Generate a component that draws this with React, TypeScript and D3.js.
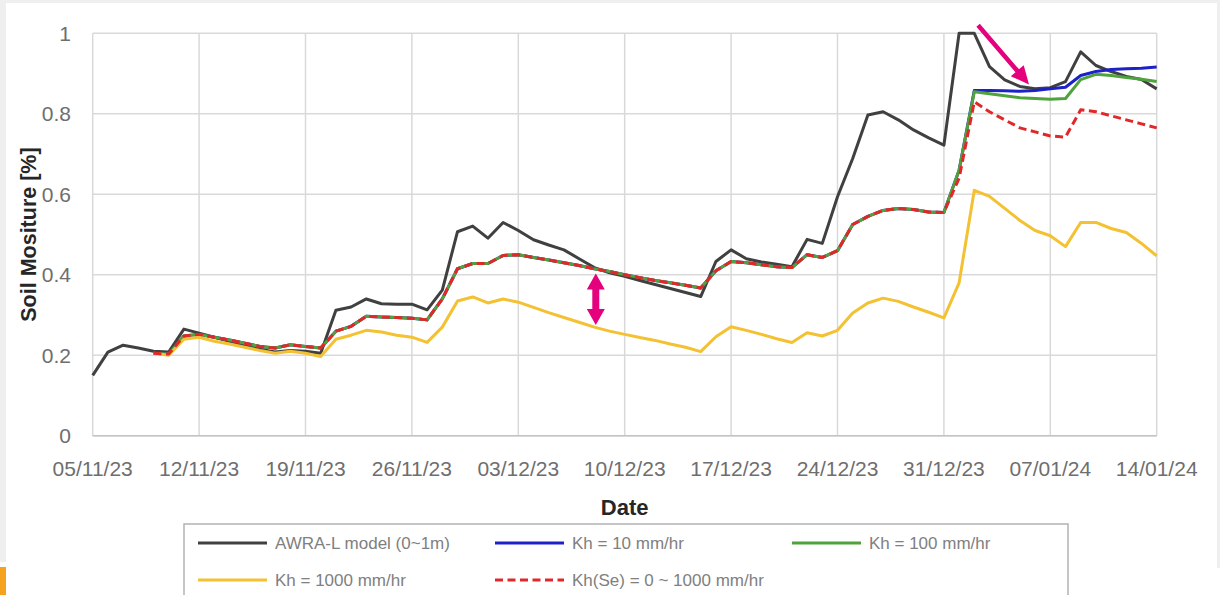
import React from "react";
import * as d3 from "d3";

// ---- data -------------------------------------------------------------
// Daily dates from 05/11/23 to 14/01/24
const dates: Date[] = d3.utcDay.range(
  new Date(Date.UTC(2023, 10, 5)),
  new Date(Date.UTC(2024, 0, 15))
);

// AWRA-L model soil moisture (0~1m), one value per day from 05/11/23
const awraValues = [
  0.15, 0.208, 0.225, 0.218, 0.21, 0.208, 0.265, 0.255, 0.245, 0.235,
  0.225, 0.215, 0.208, 0.212, 0.21, 0.205, 0.312, 0.32, 0.34, 0.328,
  0.327, 0.327, 0.313, 0.362, 0.507, 0.521, 0.491, 0.53, 0.51, 0.487,
  0.474, 0.462, 0.44, 0.418, 0.405, 0.396, 0.386, 0.376, 0.366, 0.356,
  0.346, 0.433, 0.462, 0.44, 0.432, 0.426, 0.42, 0.488, 0.478, 0.594,
  0.689, 0.797, 0.805, 0.785, 0.76, 0.74, 0.722, 1.0, 1.0, 0.917,
  0.884, 0.868, 0.862, 0.865, 0.88, 0.954, 0.92, 0.905, 0.893, 0.885,
  0.862,
];

// Simulated series start on 09/11/23 (day index 4)
const simStartIndex = 4;

const kh10Values = [
  0.205, 0.203, 0.248, 0.252, 0.245, 0.238, 0.23, 0.222, 0.218, 0.226,
  0.222, 0.218, 0.26, 0.272, 0.297, 0.295, 0.294, 0.292, 0.288, 0.34,
  0.415, 0.428, 0.428, 0.448, 0.45, 0.443, 0.437, 0.43, 0.423, 0.415,
  0.408, 0.4, 0.393, 0.386, 0.38, 0.374, 0.367, 0.41, 0.433, 0.43,
  0.425, 0.42, 0.418, 0.45, 0.443, 0.46, 0.525, 0.545, 0.56, 0.565,
  0.562, 0.556, 0.555, 0.66, 0.858, 0.858, 0.857, 0.856, 0.858, 0.862,
  0.866, 0.895, 0.905, 0.91, 0.912, 0.913, 0.916,
];

const kh100Values = [
  0.205, 0.203, 0.248, 0.252, 0.245, 0.238, 0.23, 0.222, 0.218, 0.226,
  0.222, 0.218, 0.26, 0.272, 0.297, 0.295, 0.294, 0.292, 0.288, 0.34,
  0.415, 0.428, 0.428, 0.448, 0.45, 0.443, 0.437, 0.43, 0.423, 0.415,
  0.408, 0.4, 0.393, 0.386, 0.38, 0.374, 0.367, 0.41, 0.433, 0.43,
  0.425, 0.42, 0.418, 0.45, 0.443, 0.46, 0.525, 0.545, 0.56, 0.565,
  0.562, 0.556, 0.555, 0.66, 0.855, 0.85, 0.845, 0.84, 0.838, 0.836,
  0.838, 0.885, 0.898, 0.895, 0.89, 0.886, 0.88,
];

const kh1000Values = [
  0.205, 0.2, 0.24, 0.245, 0.235, 0.228, 0.22, 0.212, 0.205, 0.21,
  0.205, 0.197, 0.24, 0.25, 0.262, 0.258, 0.25, 0.245, 0.232, 0.27,
  0.335, 0.345, 0.33, 0.34, 0.332, 0.319, 0.306, 0.294, 0.282, 0.27,
  0.26, 0.252, 0.244, 0.237, 0.228, 0.22, 0.209, 0.246, 0.271, 0.262,
  0.252, 0.241, 0.232, 0.256, 0.248, 0.262, 0.305, 0.33, 0.342, 0.334,
  0.32, 0.307, 0.293, 0.38, 0.61, 0.595, 0.565, 0.535, 0.51, 0.497,
  0.47, 0.53, 0.53, 0.515, 0.505, 0.478, 0.447,
];

const khSeValues = [
  0.205, 0.203, 0.248, 0.252, 0.245, 0.238, 0.23, 0.222, 0.218, 0.226,
  0.222, 0.218, 0.26, 0.272, 0.297, 0.295, 0.294, 0.292, 0.288, 0.34,
  0.415, 0.428, 0.428, 0.448, 0.45, 0.443, 0.437, 0.43, 0.423, 0.415,
  0.408, 0.4, 0.393, 0.386, 0.38, 0.374, 0.367, 0.41, 0.433, 0.43,
  0.425, 0.42, 0.418, 0.45, 0.443, 0.46, 0.525, 0.545, 0.56, 0.565,
  0.562, 0.556, 0.555, 0.64, 0.83, 0.805, 0.785, 0.765, 0.755, 0.745,
  0.742, 0.81, 0.805, 0.795, 0.785, 0.775, 0.765,
];

const seriesNames = [
  "AWRA-L model (0~1m)",
  "Kh = 10 mm/hr",
  "Kh = 100 mm/hr",
  "Kh = 1000 mm/hr",
  "Kh(Se) = 0 ~ 1000 mm/hr",
];

const yTickValues = [0, 0.2, 0.4, 0.6, 0.8, 1];
const yTickLabels = ["0", "0.2", "0.4", "0.6", "0.8", "1"];
const xTickLabels = [
  "05/11/23", "12/11/23", "19/11/23", "26/11/23", "03/12/23", "10/12/23",
  "17/12/23", "24/12/23", "31/12/23", "07/01/24", "14/01/24",
];

// ---- layout -----------------------------------------------------------
const W = 1220;
const H = 595;
const PLOT = { left: 92.7, right: 1156.7, top: 33.3, bottom: 435.8 };
const FONT = "'Liberation Sans', Arial, sans-serif";
const MAGENTA = "#e5007d";

type Series = {
  name: string;
  values: number[];
  start: number;
  color: string;
  dash?: string;
};

const series: Series[] = [
  { name: seriesNames[0], values: awraValues, start: 0, color: "#404040" },
  { name: seriesNames[1], values: kh10Values, start: simStartIndex, color: "#1c22c8" },
  { name: seriesNames[2], values: kh100Values, start: simStartIndex, color: "#4fa33c" },
  { name: seriesNames[3], values: kh1000Values, start: simStartIndex, color: "#f3c132" },
  { name: seriesNames[4], values: khSeValues, start: simStartIndex, color: "#e12828", dash: "8 4.5" },
];

// polygon for a straight arrow, optionally with heads at both ends
function arrowPath(
  x1: number, y1: number, x2: number, y2: number,
  shaft: number, headW: number, headL: number, both: boolean
): string {
  const len = Math.hypot(x2 - x1, y2 - y1);
  const ux = (x2 - x1) / len, uy = (y2 - y1) / len;
  const nx = -uy, ny = ux;
  const pt = (px: number, py: number, along: number, side: number) =>
    [px + ux * along + nx * side, py + uy * along + ny * side];
  const pts: number[][] = [];
  if (both) {
    pts.push([x1, y1]);
    pts.push(pt(x1, y1, headL, headW / 2));
    pts.push(pt(x1, y1, headL, shaft / 2));
  } else {
    pts.push(pt(x1, y1, 0, shaft / 2));
  }
  pts.push(pt(x2, y2, -headL, shaft / 2));
  pts.push(pt(x2, y2, -headL, headW / 2));
  pts.push([x2, y2]);
  pts.push(pt(x2, y2, -headL, -headW / 2));
  pts.push(pt(x2, y2, -headL, -shaft / 2));
  if (both) {
    pts.push(pt(x1, y1, headL, -shaft / 2));
    pts.push(pt(x1, y1, headL, -headW / 2));
  } else {
    pts.push(pt(x1, y1, 0, -shaft / 2));
  }
  return "M" + pts.map((p) => `${p[0].toFixed(1)},${p[1].toFixed(1)}`).join("L") + "Z";
}

export default function App() {
  const parse = d3.utcParse("%d/%m/%y");
  const x = d3
    .scaleUtc()
    .domain([dates[0], dates[dates.length - 1]])
    .range([PLOT.left, PLOT.right]);
  const y = d3.scaleLinear().domain([0, 1]).range([PLOT.bottom, PLOT.top]);

  const line = d3
    .line<[Date, number]>()
    .x((d) => x(d[0]))
    .y((d) => y(d[1]));

  const tickDates = xTickLabels.map((s) => parse(s) as Date);

  // annotation arrows, placed in data space
  const dayAt = (i: number) => new Date(dates[0].getTime() + i * 86400000);
  const diagArrow = arrowPath(
    x(dayAt(58.25)), y(1.02), x(dayAt(61.6)), y(0.873), 4.6, 17, 18, false
  );
  const vertArrow = arrowPath(
    x(dayAt(33.1)), y(0.403), x(dayAt(33.1)), y(0.275), 7, 18, 16, true
  );

  // legend layout
  const legendCols = [198, 495, 792];
  const legendRows = [543, 580];
  const legendItems = series.map((s, i) => ({
    ...s,
    lx: legendCols[i % 3],
    ly: legendRows[Math.floor(i / 3)],
  }));

  return (
    <div style={{ position: "fixed", left: 0, top: 0, width: W, height: H }}>
      <svg width={W} height={H} style={{ display: "block" }}>
        <rect x={0} y={0} width={W} height={H} fill="#ffffff" />
        <rect x={0} y={0} width={W} height={3} fill="#efefef" />
        <rect x={0} y={0} width={6} height={562} fill="#efefef" />
        <rect x={1217} y={0} width={3} height={568} fill="#efefef" />
        <rect x={0} y={567} width={6} height={28} fill="#f5a31e" />

        {/* grid */}
        <g stroke="#d9d9d9" strokeWidth={1.5}>
          {yTickValues.map((v) => (
            <line key={"h" + v} x1={PLOT.left} x2={PLOT.right} y1={y(v)} y2={y(v)} />
          ))}
          {tickDates.map((d, i) => (
            <line key={"v" + i} x1={x(d)} x2={x(d)} y1={PLOT.top} y2={PLOT.bottom} />
          ))}
        </g>
        <line
          x1={PLOT.left}
          x2={PLOT.right}
          y1={y(0)}
          y2={y(0)}
          stroke="#c4c4c4"
          strokeWidth={1.5}
        />

        {/* y tick labels */}
        <g fontFamily={FONT} fontSize={21} fill="#6e6e6e" textAnchor="end">
          {yTickValues.map((v, i) => (
            <text key={v} x={71} y={y(v)} dy="0.36em">
              {yTickLabels[i]}
            </text>
          ))}
        </g>
        {/* x tick labels */}
        <g fontFamily={FONT} fontSize={21} fill="#6e6e6e" textAnchor="middle">
          {tickDates.map((d, i) => (
            <text key={i} x={x(d)} y={476}>
              {xTickLabels[i]}
            </text>
          ))}
        </g>

        {/* axis titles */}
        <text
          x={(PLOT.left + PLOT.right) / 2}
          y={515}
          textAnchor="middle"
          fontFamily={FONT}
          fontWeight="bold"
          fontSize={22}
          fill="#262626"
        >
          Date
        </text>
        <text
          transform={`translate(36,${(PLOT.top + PLOT.bottom) / 2}) rotate(-90)`}
          textAnchor="middle"
          fontFamily={FONT}
          fontWeight="bold"
          fontSize={21.5}
          fill="#262626"
        >
          Soil Mositure [%]
        </text>

        {/* series */}
        <g fill="none" strokeLinejoin="round">
          {series.map((s) => (
            <path
              key={s.name}
              d={line(s.values.map((v, i) => [dates[i + s.start], v] as [Date, number])) || ""}
              stroke={s.color}
              strokeWidth={3}
              strokeDasharray={s.dash}
            />
          ))}
        </g>

        {/* annotations */}
        <path d={diagArrow} fill={MAGENTA} />
        <path d={vertArrow} fill={MAGENTA} />

        {/* legend */}
        <rect
          x={184}
          y={524}
          width={884}
          height={90}
          fill="#ffffff"
          stroke="#b3b3b3"
          strokeWidth={1.5}
        />
        <g fontFamily={FONT} fontSize={17} fill="#808080">
          {legendItems.map((s) => (
            <g key={s.name}>
              <line
                x1={s.lx}
                x2={s.lx + 69}
                y1={s.ly}
                y2={s.ly}
                stroke={s.color}
                strokeWidth={3}
                strokeDasharray={s.dash}
              />
              <text x={s.lx + 77} y={s.ly} dy="0.35em">
                {s.name}
              </text>
            </g>
          ))}
        </g>
      </svg>
    </div>
  );
}
